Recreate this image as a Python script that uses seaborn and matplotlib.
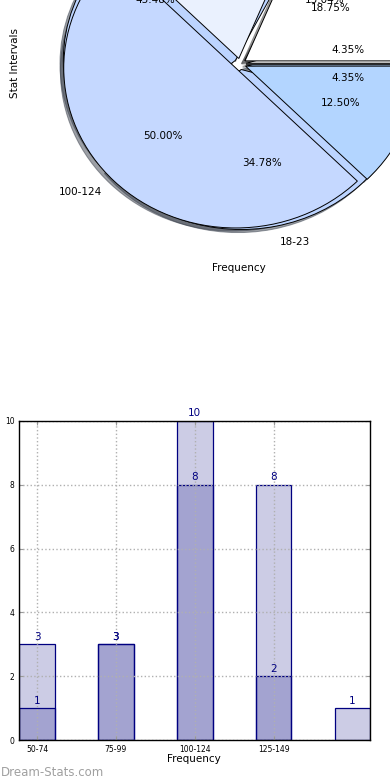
import matplotlib

matplotlib.use("Agg")
import matplotlib.pyplot as plt
import seaborn as sns

# data
tick_labels = ["50-74", "75-99", "100-124", "125-149"]
bar_slots = ["50-74", "75-99", "100-124", "125-149", "150-174"]
series_a = [1, 3, 10, 8, 1]
series_b = [3, 3, 8, 2]
pie_a_labels = ["", "", "", "18-23", ""]
pie_b_labels = tick_labels

pie_a_colors = ["#ffffff", "#eaf1fe", "#bcd4ff", "#bcd4ff", "#b3d5ff"]
pie_b_colors = ["#ffffff", "#eaf1fe", "#c5d8ff", "#b3d5ff"]

W, H = 390, 780


def px_axes(fig, left, top, right, bottom):
    return fig.add_axes([left / W, 1 - bottom / H, (right - left) / W, (bottom - top) / H])


def main():
    fig = plt.figure(figsize=(W / 100, H / 100), dpi=100)

    # Pie panel (top part sticks out of the figure like in the original)
    ax1 = px_axes(fig, 25, -136, 455, 264)
    for vals, labels, colors in [
        (series_a, pie_a_labels, pie_a_colors),
        (series_b, pie_b_labels, pie_b_colors),
    ]:
        ax1.pie(
            vals,
            labels=labels,
            colors=colors,
            explode=[0.035] * len(vals),
            autopct="%.2f%%",
            shadow={"ox": -0.014, "oy": -0.014},
            wedgeprops={"edgecolor": "black", "linewidth": 0.7},
            textprops={"fontsize": 7.5},
        )
    ax1.set_aspect("auto")
    ax1.set_xlim(-1.25, 1.25)
    ax1.set_ylim(-1.25, 1.25)
    ax1.set_xlabel("Frequency", fontsize=7.5)
    ax1.set_ylabel("Stat Intervals", fontsize=7.5)
    ax1.xaxis.set_label_coords(0.498, 0.003)
    ax1.yaxis.set_label_coords(-0.012, 0.502)

    # Bar panel
    ax2 = px_axes(fig, 19.3, 421, 370.3, 740)
    sns.barplot(x=bar_slots, y=series_a, order=bar_slots, color="navy",
                width=0.45, ax=ax2)
    sns.barplot(x=bar_slots[: len(series_b)], y=series_b, order=bar_slots,
                color="navy", width=0.45, ax=ax2)
    for p in ax2.patches:
        p.set_facecolor((0, 0, 0.5, 0.2))
        p.set_edgecolor("navy")
        p.set_linewidth(0.9)

    for vals in (series_a, series_b):
        for i, v in enumerate(vals):
            ax2.text(i, v + 0.08, str(v), ha="center", va="bottom",
                     color="navy", fontsize=7.5, clip_on=False)

    ax2.set_xlim(-0.225, 4.225)
    ax2.set_ylim(0, 10)
    ax2.set_xticks(range(len(tick_labels)))
    ax2.set_xticklabels(tick_labels)
    ax2.set_yticks([0, 2, 4, 6, 8, 10])
    ax2.tick_params(labelsize=5.5, direction="in", top=True, right=True,
                    length=3, color="#999999", pad=3.5)
    ax2.grid(True, linestyle=":", color="#b0b0b0", linewidth=1)
    ax2.set_axisbelow("line")
    for s in ax2.spines.values():
        s.set_linewidth(1)
        s.set_color("black")
    ax2.set_xlabel("Frequency", fontsize=7.5)
    ax2.set_ylabel("Stat Intervals", fontsize=7.5)
    ax2.xaxis.set_label_coords(0.498, -0.045)
    ax2.yaxis.set_label_coords(-0.047, 0.5)

    fig.text(0.002, 4 / H, "Dream-Stats.com", color="#a0a0a0", fontsize=8.5,
             ha="left", va="baseline")

    fig.savefig("out.png", dpi=100)


if __name__ == "__main__":
    main()
